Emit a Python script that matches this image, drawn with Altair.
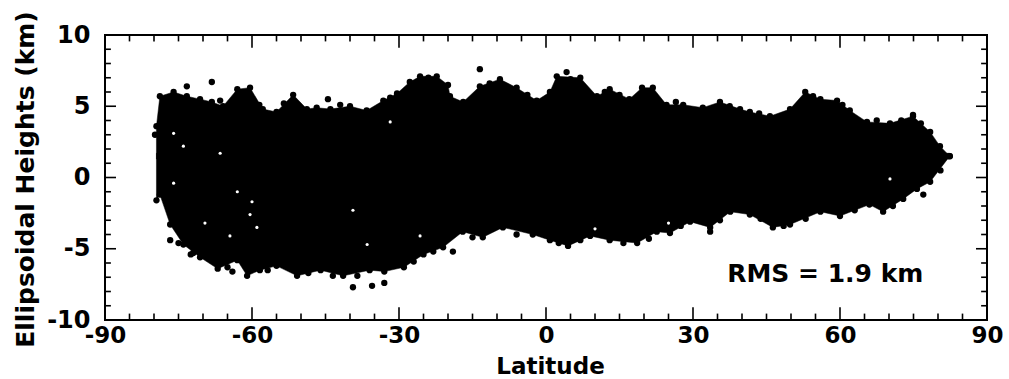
import altair as alt
import pandas as pd

# ---- data ----
upper_lat = [-79.5, -78.8, -76, -73.3, -70.6, -68.2, -65.9, -63, -60.4, -57.8, -55, -51.6,
             -48.8, -46.8, -44, -40, -36.6, -33.2, -30.4, -27.8, -25.7, -22.3, -20, -19.6,
             -16.9, -13.5, -9.4, -6, -1.9, 0.8, 2.2, 7, 10.4, 13, 17, 19.6, 21.8, 24.6, 28,
             32, 35.5, 39.6, 41.6, 45.7, 49.8, 52.9, 56, 59.4, 62, 65.5, 70.2, 74.9, 78.4,
             80.4, 82.4]
upper_km = [3.6, 5.7, 6.0, 5.7, 5.5, 5.3, 5.0, 6.2, 6.3, 4.8, 4.6, 5.8,
            4.8, 4.9, 4.8, 5.0, 4.7, 5.4, 5.9, 6.7, 7.1, 7.1, 6.5, 5.7,
            5.3, 6.4, 6.9, 6.3, 5.4, 6.0, 7.1, 7.0, 5.7, 6.2, 5.5, 6.3, 6.3, 5.1, 5.1,
            4.9, 5.3, 4.8, 4.6, 4.3, 4.8, 6.0, 5.5, 5.4, 4.7, 3.9, 3.8, 4.3, 3.2,
            2.2, 1.5]
lower_lat = [-79.5, -78.8, -76.7, -74, -70.6, -67, -63, -61, -58.4, -55, -50.8, -46,
             -41.4, -36, -33, -29, -25, -21, -17, -12.9, -8.8, -2.7, 0.8, 4.5, 9, 13,
             18.6, 22.6, 25.3, 29.4, 33.5, 37.6, 41.6, 46.3, 49.8, 56, 60, 66, 68.8,
             72.9, 75.7, 78.4, 82.4]
lower_km = [-1.6, -1.2, -3.3, -4.7, -5.6, -6.4, -5.8, -6.9, -6.5, -6.2, -6.9, -6.5,
            -6.9, -6.5, -6.6, -6.3, -5.4, -4.9, -3.8, -4.2, -3.5, -4.0, -4.4, -4.8, -4.1, -4.4,
            -4.6, -3.8, -3.9, -3.1, -3.5, -2.4, -2.6, -3.5, -3.3, -2.4, -2.7, -1.9, -2.4,
            -1.5, -0.8, -0.3, 1.5]
# isolated dots and bumps along the edge of the cloud
dot_lat = [-73.3, -68.2, -79.8, -76.7, -75.0, -72.0, -44.5, -39.4, -35.5, -33.0,
           -13.5, 4.2, 12.0, 33.5, 47.0, 48.5, 74.9, -19.0, 21.0, -64.0,
           -66.5, -58.5, -53.5, -42.0, -31.8, -24.0, -11.5, -3.8, 5.0, 15.0, 26.5, 37.5,
           43.5, 54.5, 60.5, 67.5, 72.5, 76.5,
           -72.5, -65.0, -56.8, -48.5, -43.5, -38.5, -27.0, -23.0, -15.0, -6.0, 2.6, 7.0,
           15.8, 27.5, 35.5, 43.8, 53.0, 63.0, 70.8, 77.0, 80.5]
dot_km = [6.4, 6.7, 3.0, -4.4, -4.6, -5.3, 5.5, -7.7, -7.6, -7.4,
          7.6, 7.4, 6.0, -3.8, -3.1, -3.4, 4.4, -5.2, -4.3, -6.6,
          5.4, 5.1, 5.2, 5.1, 5.6, 7.0, 6.6, 5.8, 6.9, 5.8, 5.3, 5.0,
          4.5, 5.7, 5.1, 4.0, 4.0, 3.8,
          -5.4, -6.3, -6.5, -6.7, -6.9, -6.9, -5.9, -5.2, -4.2, -4.0, -4.6, -4.4,
          -4.6, -3.4, -3.0, -2.9, -2.9, -2.3, -2.0, -1.2, 0.5]
# small white gaps inside the cloud
gap_lat = [-76, -74, -66.5, -76, -63, -60, -60.4, -69.6, -64.5, -59, -31.8, -39.4,
           -25.7, -36.5, 70.2, 25, 10]
gap_km = [3.1, 2.2, 1.7, -0.4, -1.0, -1.7, -2.6, -3.2, -4.1, -3.5, 3.9, -2.3,
          -4.1, -4.7, -0.1, -3.2, -3.6]

x_tick_values = list(range(-90, 91, 5))
y_tick_values = list(range(-10, 11))
x_label_values = [-90, -60, -30, 0, 30, 60, 90]
y_label_values = [-10, -5, 0, 5, 10]
rms_text = "RMS = 1.9 km"
x_title = "Latitude"
y_title = "Ellipsoidal Heights (km)"

# ---- chart ----
FONT = "DejaVu Sans"
x_scale = alt.Scale(domain=[-90, 90], nice=False, zero=False)
y_scale = alt.Scale(domain=[-10, 10], nice=False, zero=False)

x_axis = alt.Axis(values=x_label_values, labelExpr="'' + datum.value",
                  labelFont=FONT, labelFontWeight="bold", labelFontSize=23,
                  labelColor="black", labelPadding=4, labelFlush=False, labelOverlap=False,
                  title=x_title, titleFont=FONT, titleFontWeight="bold", titleFontSize=23,
                  titleColor="black", titleX=445, titleY=53, titleAlign="center",
                  titleBaseline="alphabetic")
y_axis = alt.Axis(values=y_label_values, labelExpr="'' + datum.value",
                  labelFont=FONT, labelFontWeight="bold", labelFontSize=24,
                  labelColor="black", labelPadding=15, labelFlush=False, labelOverlap=False,
                  title=y_title, titleFont=FONT, titleFontWeight="bold", titleFontSize=25,
                  titleColor="black", titleAngle=270, titleX=-72, titleY=144,
                  titleAlign="center", titleBaseline="alphabetic")

X = lambda f: alt.X(f, type="quantitative", scale=x_scale, axis=x_axis)
Y = lambda f: alt.Y(f, type="quantitative", scale=y_scale, axis=y_axis)

# the two halves of the cloud overlap slightly so that no seam shows
upper_df = pd.DataFrame({"lat": upper_lat, "km": upper_km, "base": 1.3})
lower_df = pd.DataFrame({"lat": lower_lat, "km": lower_km, "base": 1.7})

area_style = dict(color="black", interpolate="linear", orient="vertical",
                  stroke="black", strokeWidth=0.5)
upper_area = alt.Chart(upper_df).mark_area(**area_style).encode(
    x=X("lat"), y=Y("km"), y2="base")
lower_area = alt.Chart(lower_df).mark_area(**area_style).encode(
    x=X("lat"), y=Y("km"), y2="base")

dots_df = pd.concat([
    pd.DataFrame({"lat": upper_lat, "km": upper_km}),
    pd.DataFrame({"lat": lower_lat, "km": lower_km}),
    pd.DataFrame({"lat": dot_lat, "km": dot_km}),
])
dots = alt.Chart(dots_df).mark_circle(color="black", opacity=1, size=40).encode(
    x=X("lat"), y=Y("km"))
gaps = alt.Chart(pd.DataFrame({"lat": gap_lat, "km": gap_km})).mark_circle(
    color="white", opacity=1, size=10).encode(x=X("lat"), y=Y("km"))

# inward ticks on all four sides
xt = pd.DataFrame({"lat": x_tick_values})
xt["len"] = [0.9 if v % 30 == 0 else 0.45 for v in x_tick_values]
bottom_t = pd.DataFrame({"lat": xt["lat"], "y1": -10.0, "y2": -10 + xt["len"]})
top_t = pd.DataFrame({"lat": xt["lat"], "y1": 10.0, "y2": 10 - xt["len"]})
yt = pd.DataFrame({"km": y_tick_values})
yt["len"] = [2.25 if v % 5 == 0 else 1.2 for v in y_tick_values]
left_t = pd.DataFrame({"km": yt["km"], "x1": -90.0, "x2": -90 + yt["len"]})
right_t = pd.DataFrame({"km": yt["km"], "x1": 90.0, "x2": 90 - yt["len"]})

tick_style = dict(color="black", strokeWidth=1.6)
bt = alt.Chart(bottom_t).mark_rule(**tick_style).encode(x=X("lat"), y=Y("y1"), y2="y2")
tt = alt.Chart(top_t).mark_rule(**tick_style).encode(x=X("lat"), y=Y("y1"), y2="y2")
lt = alt.Chart(left_t).mark_rule(**tick_style).encode(y=Y("km"), x=X("x1"), x2="x2")
rt = alt.Chart(right_t).mark_rule(**tick_style).encode(y=Y("km"), x=X("x1"), x2="x2")

rms = alt.Chart(pd.DataFrame({"lat": [57.0], "km": [-6.8], "t": [rms_text]})).mark_text(
    font=FONT, fontWeight="bold", fontSize=25, color="black", align="center", baseline="middle"
).encode(x=X("lat"), y=Y("km"), text="t:N")

chart = alt.layer(bt, tt, lt, rt, upper_area, lower_area, dots, gaps, rms).properties(
    width=882, height=285,
    autosize=alt.AutoSizeParams(type="none"),
    padding={"left": 105, "top": 35, "right": 22, "bottom": 59},
    background="white",
).configure_view(stroke="black", strokeWidth=2).configure_axis(
    grid=False, ticks=False, domain=False)

chart.save("out.html", embed_options={"renderer": "svg", "actions": False})
